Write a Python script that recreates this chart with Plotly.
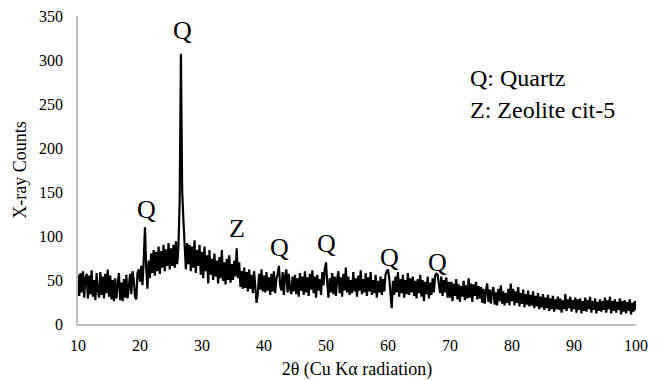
import plotly.graph_objects as go

# Scan setup (2θ start and step of the diffractometer scan)
two_theta_start = 10.0
two_theta_step = 0.2

# Counts, 10.0° to 100.0° in 0.2° steps
counts_10_15 = [56,32,58,36,60,30,52,57,29,55,34,61,31,50,27,58,38,30,59,33,54,29,57,35,62]
counts_15_20 = [31,55,28,50,26,52,29,45,58,27,47,26,51,30,56,29,49,57,34,60,50,31,28,58,62]
counts_20_25 = [48,66,44,72,110,64,40,72,52,80,58,84,55,82,60,88,57,83,64,90,60,85,66,92,62]
counts_25_30 = [86,66,90,64,94,68,88,140,307,152,118,96,62,92,68,90,60,88,64,95,58,84,66,90,56]
counts_30_35 = [82,52,88,60,78,46,84,56,74,50,80,54,72,46,76,52,84,49,70,45,74,50,78,47,68]
counts_35_40 = [50,72,54,86,52,70,42,60,40,64,41,59,37,62,40,56,35,60,38,24,34,57,39,62,37]
counts_40_45 = [55,36,59,38,53,33,57,37,60,35,52,56,66,44,38,59,33,55,62,36,57,40,34,54,37]
counts_45_50 = [56,34,52,31,58,38,54,33,60,36,53,32,57,39,61,35,54,30,56,38,51,33,59,44,62]
counts_50_55 = [70,46,30,52,36,58,34,54,32,51,60,35,53,31,57,38,64,36,54,33,50,35,59,37,52]
counts_55_60 = [31,55,38,61,34,51,36,58,32,53,37,59,33,50,35,56,30,49,36,54,33,51,37,56,60]
counts_60_65 = [62,52,36,18,49,33,54,36,59,31,51,35,56,30,50,34,58,33,52,36,54,32,49,29,51]
counts_65_70 = [35,56,31,50,26,48,34,54,29,47,33,52,36,55,57,56,43,35,54,32,50,36,53,30,48]
counts_70_75 = [30,48,26,46,32,51,28,45,25,43,31,49,27,44,29,52,30,46,25,45,32,48,28,43,29]
counts_75_80 = [42,24,40,23,38,46,25,39,23,37,42,22,36,21,40,26,44,23,37,21,35,24,40,21,46]
counts_80_85 = [26,40,21,37,24,42,20,35,23,39,19,34,22,38,20,33,21,37,18,32,20,35,17,31,19]
counts_85_90 = [34,16,30,18,33,15,29,17,32,14,28,17,31,16,29,13,27,17,34,15,28,18,31,14,27]
counts_90_95 = [17,30,13,28,16,29,12,26,15,30,14,27,17,31,13,26,16,29,12,25,15,28,14,26,16]
counts_95_100 = [30,13,27,17,31,12,26,15,28,13,25,16,29,11,26,14,27,12,25,15,28,11,24,14,26,16]

counts = (counts_10_15 + counts_15_20 + counts_20_25 + counts_25_30 + counts_30_35
          + counts_35_40 + counts_40_45 + counts_45_50 + counts_50_55 + counts_55_60
          + counts_60_65 + counts_65_70 + counts_70_75 + counts_75_80 + counts_80_85
          + counts_85_90 + counts_90_95 + counts_95_100)
two_theta = [round(two_theta_start + two_theta_step * i, 2) for i in range(len(counts))]

# Phase labels above peaks
peak_labels = ["Q", "Q", "Z", "Q", "Q", "Q", "Q"]
peak_2theta = [26.8, 21.0, 35.6, 42.5, 50.0, 60.2, 68.0]
peak_label_y = [333, 130, 108, 87, 92, 76, 70]

legend_lines = ["Q: Quartz", "Z: Zeolite cit-5"]

x_ticks = [10, 20, 30, 40, 50, 60, 70, 80, 90, 100]
y_ticks = [0, 50, 100, 150, 200, 250, 300, 350]

serif = "Liberation Serif"

fig = go.Figure()
fig.add_trace(go.Scatter(x=two_theta, y=counts, mode="lines",
                         line=dict(color="black", width=2.2), showlegend=False,
                         hoverinfo="skip"))

for t, x, y in zip(peak_labels, peak_2theta, peak_label_y):
    fig.add_annotation(x=x, y=y, text=t, showarrow=False, xref="x", yref="y",
                       font=dict(family=serif, size=26, color="black"))

for t, yp in zip(legend_lines, [0.80, 0.695]):
    fig.add_annotation(x=0.699, y=yp, xref="paper", yref="paper", text=t,
                       showarrow=False, xanchor="left", yanchor="middle",
                       font=dict(family=serif, size=24, color="black"))

fig.update_layout(
    width=664, height=380,
    margin=dict(l=78, r=28, t=16, b=56),
    paper_bgcolor="white", plot_bgcolor="white",
    font=dict(family=serif, color="black"),
    xaxis=dict(range=[10, 100], tickvals=x_ticks, showgrid=False, zeroline=False,
               showline=True, linecolor="#bdbdbd", linewidth=1.5, ticks="",
               automargin=False,
               tickfont=dict(size=16, family=serif, color="black"),
               ticklabelstandoff=6,
               title=dict(text="2θ (Cu Kα radiation)", font=dict(size=18, family=serif),
                          standoff=12)),
    yaxis=dict(range=[0, 350], tickvals=y_ticks, showgrid=False, zeroline=False,
               showline=True, linecolor="#bdbdbd", linewidth=1.5, ticks="",
               automargin=False,
               tickfont=dict(size=16, family=serif, color="black"),
               ticklabelstandoff=10,
               title=dict(text="X-ray Counts", font=dict(size=18, family=serif),
                          standoff=8)),
)

fig.write_html("out.html")
